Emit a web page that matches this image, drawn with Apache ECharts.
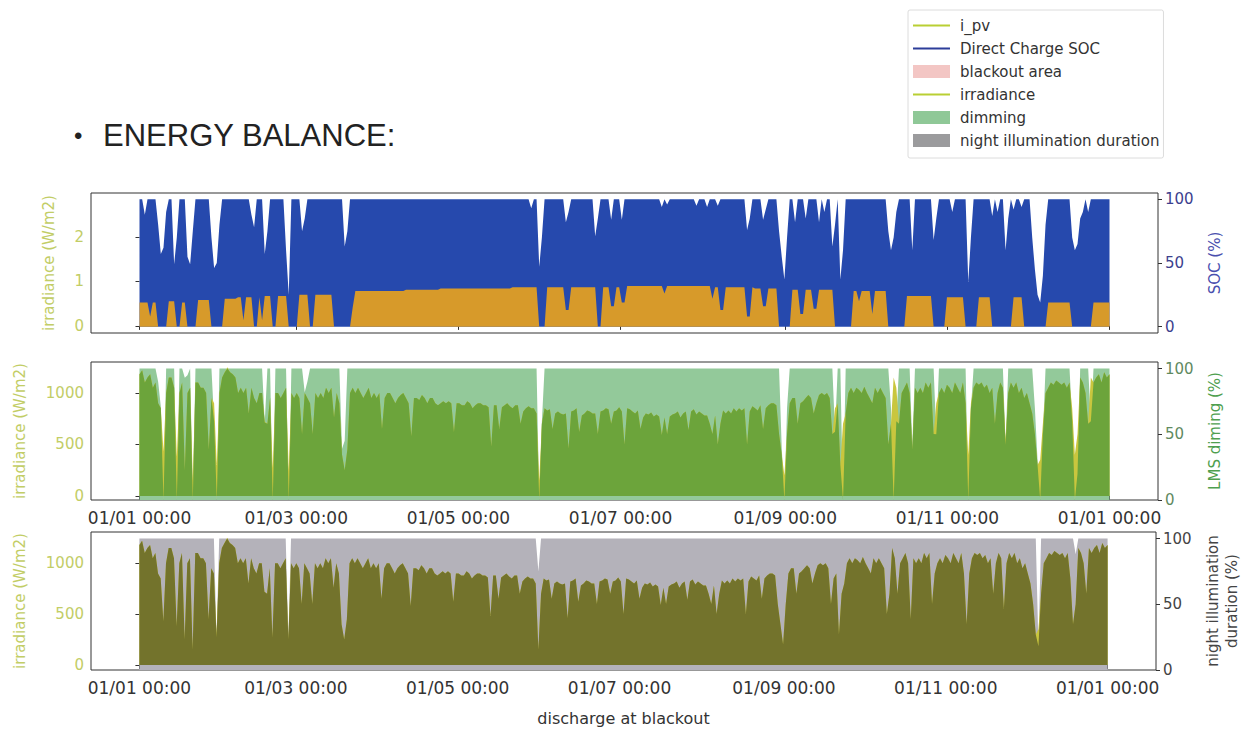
<!DOCTYPE html>
<html><head><meta charset="utf-8">
<script src="https://cdn.jsdelivr.net/npm/echarts@6/dist/echarts.min.js"></script>
<style>html,body{margin:0;padding:0;background:#fff}#c{width:1249px;height:729px}</style>
</head><body><div id="c"></div>
<script>
// ---- x axis ticks (day of year) ----
const xTickDays = [0, 59, 120, 181, 243, 304, 365];
const xTickLabels = ['01/01 00:00','01/03 00:00','01/05 00:00','01/07 00:00','01/09 00:00','01/11 00:00','01/01 00:00'];

// ---- panel 1: Direct Charge SOC (%), one value per day (daily max / daily min) ----
const socMax = [
100,100,88,100,100,100,100,80,57,62,   // day 0
90,100,100,49,70,100,100,100,55,49,
75,100,100,100,100,100,100,70,46,50,
80,100,100,100,100,100,100,100,100,100,
100,100,88,78,100,100,100,57,75,100,
100,100,100,100,100,60,25,100,100,100,
100,75,85,100,100,100,100,100,100,100,
100,100,100,100,100,100,100,63,75,100,
100,100,100,100,100,100,100,100,100,100, // day 80
100,100,100,100,100,100,100,100,100,100,
100,100,100,100,100,100,100,100,100,100,
100,100,100,100,100,100,100,100,100,100,
100,100,100,100,100,100,100,100,100,100,
100,100,100,100,100,100,100,100,100,100,
100,100,100,100,100,100,100,93,100,100,
47,70,100,100,100,100,100,100,100,100,  // day 150
82,90,100,100,100,100,100,100,100,100,
100,71,85,100,100,100,100,84,100,100,
100,84,100,100,100,100,100,100,100,100,
100,100,100,100,100,100,94,100,96,100,
100,100,100,100,100,100,100,100,100,95, // day 200
100,100,100,94,100,100,100,95,100,100,
100,100,100,100,100,100,100,100,76,85,
100,100,100,100,84,92,100,100,100,100,
75,55,37,70,100,100,82,100,100,100,
85,100,100,100,100,82,100,90,100,100,   // day 250
63,80,100,37,60,100,100,100,100,100,
100,100,100,100,100,100,100,100,100,100,
100,75,60,70,90,100,100,100,100,100,
60,100,100,100,100,100,100,100,68,85,
100,100,100,100,100,90,100,100,100,100, // day 300
100,35,70,100,100,100,100,100,100,100,
87,100,90,100,100,60,85,100,92,100,
100,94,100,100,100,70,45,25,19,40,
80,100,100,100,100,100,100,100,100,100,
70,60,65,85,90,100,90,100,100,100,      // day 350
100,100,100,100,100];
const socMin = [
19,19,19,19,8,19,19,0,0,0,               // day 0
0,20,20,20,0,0,19,19,0,0,
0,0,21,21,21,21,21,0,0,0,
0,0,22,22,22,22,22,23,23,5,
23,23,23,0,0,23,5,24,24,24,
0,0,24,24,24,24,0,0,0,0,
25,25,25,25,0,0,25,25,25,25,
25,25,25,0,0,0,0,0,0,0,
15,28,28,28,28,28,28,28,28,28,           // day 80
28,28,28,28,28,28,28,28,28,28,
29,29,29,29,29,29,29,29,29,29,
29,29,29,30,30,30,30,30,30,30,
30,30,30,30,30,30,30,30,30,30,
30,30,30,30,30,30,30,30,30,30,
31,31,31,31,31,31,31,31,31,31,
0,0,0,31,31,31,31,31,31,31,              // day 150
13,13,31,31,31,31,31,31,31,31,
31,31,0,0,31,31,31,16,16,31,
31,19,19,32,32,32,32,32,32,32,
32,32,32,32,32,32,32,26,32,32,
32,32,32,32,32,32,32,32,32,32,           // day 200
32,32,32,32,32,22,31,31,13,13,
31,31,31,31,31,31,31,31,8,8,
31,30,30,30,16,16,30,30,30,30,
0,0,0,0,0,29,29,29,10,10,
29,29,29,14,14,29,29,29,29,29,           // day 250
29,0,0,0,0,0,0,0,28,28,
20,28,28,28,28,10,28,28,28,28,
28,0,0,0,0,0,0,0,24,24,
24,24,24,24,24,24,24,24,0,0,
0,0,0,23,23,23,23,23,23,23,              // day 300
0,0,0,0,0,23,23,23,23,23,
0,0,0,0,0,0,0,0,23,23,
23,23,0,0,0,0,0,0,0,0,
0,19,19,19,19,19,19,19,19,19,
0,0,0,0,0,0,0,0,19,19,                   // day 350
19,19,19,19,19];

// ---- panels 2 & 3: irradiance daily peak (W/m2) ----
const irradiance = [
1180,1220,1100,1150,1180,1050,1100,900,850,430,      // day 0
1000,1150,1150,1050,380,1000,1100,250,1000,1050,
150,1100,1100,1050,1050,1000,450,950,900,300,
1000,1150,1200,1250,1200,1180,1150,1000,1050,1000,
1050,800,1050,950,900,1000,1000,720,700,950,
270,1000,1000,950,1000,1050,250,1000,950,1000,
950,600,1000,950,900,600,1000,950,1000,950,
1050,1000,1050,760,1000,900,400,250,450,1000,
1050,1000,1050,1000,950,1000,1050,950,1000,950,      // day 80
1000,650,950,1000,1000,950,900,950,980,1000,
950,900,580,950,950,930,980,950,900,950,
950,900,880,900,920,900,920,900,620,900,
900,880,880,920,900,850,880,900,900,880,
880,860,480,880,880,650,860,880,900,870,
850,880,880,700,820,850,870,850,850,800,
150,700,850,830,840,650,800,820,800,790,             // day 150
800,460,820,830,850,620,780,800,830,820,
800,800,600,820,830,850,840,700,820,830,
860,820,500,850,840,820,800,830,650,760,
800,790,810,770,790,770,590,760,600,770,
790,800,820,760,800,820,640,820,840,790,             // day 200
820,800,780,780,700,600,780,500,700,830,
800,830,800,850,820,850,830,850,500,820,
870,850,830,880,650,850,880,900,900,880,
600,400,200,600,900,950,950,700,900,920,
950,980,950,800,900,980,1000,980,1000,950,           // day 250
600,850,900,300,700,800,1000,1050,1000,1050,
1030,1000,1060,1000,950,900,1050,1000,1050,1000,
950,500,700,1150,1050,700,1000,1050,1100,1000,
450,1050,1000,1050,1000,1100,1050,1100,600,900,
1000,1050,1000,1080,1050,1000,1100,1050,1000,1100,   // day 300
900,400,900,1050,1100,1080,1100,1050,1080,1000,
1050,700,1000,1100,1050,550,1000,1100,1050,1100,
1000,1050,950,1000,900,800,600,300,350,700,
1000,1050,1100,1080,1120,1100,1080,1100,1050,1100,
850,400,600,1150,1100,1000,700,1150,1100,1150,       // day 350
1180,1100,1200,1150,1180];

// ---- panel 2: LMS dimming (%) ----
const dimming = [
100,100,100,100,100,100,100,90,71,0,     // day 0
100,100,100,100,0,100,100,93,95,100,
0,100,100,100,100,100,100,100,60,0,
100,100,100,100,100,100,100,100,100,100,
100,100,100,100,100,100,100,59,100,100,
0,100,100,100,100,100,0,100,100,100,
100,100,82,90,100,100,100,100,100,100,
100,100,100,100,100,100,39,45,100,100,
100,100,100,100,100,100,100,100,100,100, // day 80
100,100,100,100,100,100,100,100,100,100,
100,100,100,100,100,100,100,100,100,100,
100,100,100,100,100,100,100,100,100,100,
100,100,100,100,100,100,100,100,100,100,
100,100,100,100,100,100,100,100,100,100,
100,100,100,100,100,100,100,100,100,100,
0,60,100,100,100,100,100,100,100,100,    // day 150
100,100,100,100,100,100,100,100,100,100,
100,100,100,100,100,100,100,100,100,100,
100,100,100,100,100,100,100,100,100,100,
100,100,100,100,100,100,100,100,100,100,
100,100,100,100,100,100,100,100,100,100, // day 200
100,100,100,100,100,100,100,100,100,100,
100,100,100,100,100,100,100,100,100,100,
100,100,100,100,100,100,100,100,100,100,
100,40,0,70,100,100,100,100,100,100,
100,100,100,100,100,100,100,100,100,100, // day 250
100,52,100,100,0,100,100,100,100,100,
100,100,100,100,100,100,100,100,100,100,
100,100,70,0,60,100,100,100,100,100,
41,100,100,100,100,100,100,100,100,50,
100,100,100,100,100,100,100,100,100,100, // day 300
100,0,70,100,100,100,100,100,100,100,
100,100,100,100,100,42,100,100,100,100,
100,100,100,100,100,100,70,30,0,50,
100,100,100,100,100,100,100,100,100,100,
60,0,20,100,100,100,100,60,100,100,      // day 350
100,100,100,100,100];

// ---- panel 3: night illumination duration (%) ----
const nightDuration = [
100,100,100,100,100,100,100,100,100,100, // day 0
100,100,100,100,100,100,100,100,100,100,
100,100,100,100,100,100,100,100,100,25,
100,100,100,100,100,100,100,100,100,100,
100,100,100,100,100,100,100,100,100,100,
100,100,100,100,100,100,25,100,100,100,
100,100,100,100,100,100,100,100,100,100,
100,100,100,100,100,100,100,100,100,100,
100,100,100,100,100,100,100,100,100,100, // day 80
100,100,100,100,100,100,100,100,100,100,
100,100,100,100,100,100,100,100,100,100,
100,100,100,100,100,100,100,100,100,100,
100,100,100,100,100,100,100,100,100,100,
100,100,100,100,100,100,100,100,100,100,
100,100,100,100,100,100,100,100,100,100,
75,100,100,100,100,100,100,100,100,100,  // day 150
100,100,100,100,100,100,100,100,100,100,
100,100,100,100,100,100,100,100,100,100,
100,100,100,100,100,100,100,100,100,100,
100,100,100,100,100,100,100,100,100,100,
100,100,100,100,100,100,100,100,100,100, // day 200
100,100,100,100,100,100,100,100,100,100,
100,100,100,100,100,100,100,100,100,100,
100,100,100,100,100,100,100,100,100,100,
100,100,100,100,100,100,100,100,100,100,
100,100,100,100,100,100,100,100,100,100, // day 250
100,100,100,100,100,100,100,100,100,100,
100,100,100,100,100,100,100,100,100,100,
100,100,100,100,100,100,100,100,100,100,
100,100,100,100,100,100,100,100,100,100,
100,100,100,100,100,100,100,100,100,100, // day 300
100,100,100,100,100,100,100,100,100,100,
100,100,100,100,100,100,100,100,100,100,
100,100,100,100,100,100,100,100,18,100,
100,100,100,100,100,100,100,100,100,100,
100,100,88,100,100,100,100,100,100,100,  // day 350
100,100,100,100,100];

// ---------------- layout / style ----------------
const FONT = 'DejaVu Sans';
const X_RANGE = [-18.25, 383.25];
const P1_LEFT = [-0.16, 2.99], P1_RIGHT = [-5, 105];
const P2_LEFT = [-40, 1300], P2_RIGHT = [0, 105];
const P3_LEFT = [-50, 1307], P3_RIGHT = [0, 105];
const C_LEFT = '#c2cd66';

const N = irradiance.length;
const dayOf = i => i * 365 / (N - 1);
const pts = arr => arr.map((v, i) => [dayOf(i), v]);
// value on right (%) axis expressed in left-axis units of the same grid
const pctToLeft = (p, L, R) => L[0] + (p - R[0]) / (R[1] - R[0]) * (L[1] - L[0]);
const overlap = (pct, L, R) => irradiance.map((w, i) => Math.min(w, pctToLeft(pct[i], L, R)));

function area(name, data, xi, yi, color) {
  return {name, type: 'line', xAxisIndex: xi, yAxisIndex: yi, data: pts(data),
    symbol: 'none', showSymbol: false, lineStyle: {width: 0, color}, itemStyle: {color},
    areaStyle: {color, opacity: 1}, silent: true, animation: false};
}
function empty(name, color) {
  return {name, type: 'line', xAxisIndex: 0, yAxisIndex: 1, data: [], symbol: 'none',
    lineStyle: {color}, itemStyle: {color}};
}
function xAx(g, labels) {
  return {type: 'value', gridIndex: g, min: X_RANGE[0], max: X_RANGE[1],
    splitLine: {show: false}, axisLine: {show: false},
    axisTick: {show: true, length: 4, customValues: xTickDays, lineStyle: {color: '#333'}},
    axisLabel: {show: labels, customValues: xTickDays, margin: 9, color: '#333', fontFamily: FONT, fontSize: 17,
      formatter: v => xTickLabels[xTickDays.indexOf(v)] || ''},
    name: g === 2 ? 'discharge at blackout' : '', nameLocation: 'middle', nameGap: 40,
    nameTextStyle: {color: '#333', fontFamily: FONT, fontSize: 16}};
}
function yAx(g, pos, rng, ticks, color, name, gap, tickColor) {
  return {type: 'value', gridIndex: g, position: pos, min: rng[0], max: rng[1],
    splitLine: {show: false}, axisLine: {show: false},
    axisTick: {show: true, length: 4, customValues: ticks, lineStyle: {color: '#333'}},
    axisLabel: {customValues: ticks, margin: 7, color: tickColor || color, fontFamily: FONT, fontSize: 15,
      formatter: v => String(v)},
    name, nameLocation: 'middle', nameGap: gap, nameRotate: 90,
    nameTextStyle: {color, fontFamily: FONT, fontSize: 15, lineHeight: 19}};
}
const lineIcon = 'path://M0,0h0.01v0.01h-0.01z M0,5.5h37v2h-37z M0,13h0.01v0.01h-0.01z';

const option = {
  animation: false,
  textStyle: {fontFamily: FONT},
  title: {
    text: '{b|•}{t|ENERGY BALANCE:}', left: 74, top: 120, padding: 0,
    textStyle: {rich: {
      b: {fontFamily: 'Liberation Sans', fontSize: 24, fontWeight: 'normal', color: '#222', width: 29},
      t: {fontFamily: 'Liberation Sans', fontSize: 31, fontWeight: 'normal', color: '#222'}
    }}
  },
  legend: {
    orient: 'vertical', left: 908, top: 10, padding: [8, 4, 10, 5], itemGap: 8,
    itemWidth: 37, itemHeight: 13, borderColor: '#dcdcdc', borderWidth: 1, borderRadius: 2,
    backgroundColor: '#fff', selectedMode: false,
    textStyle: {fontFamily: FONT, fontSize: 15, color: '#333', padding: [0, 0, 0, 5]},
    data: [
      {name: 'i_pv', icon: lineIcon, itemStyle: {color: '#b9cf33'}},
      {name: 'Direct Charge SOC', icon: lineIcon, itemStyle: {color: '#2c3d99'}},
      {name: 'blackout area', icon: 'rect', itemStyle: {color: '#f3c6c4'}},
      {name: 'irradiance', icon: lineIcon, itemStyle: {color: '#b9cf33'}},
      {name: 'dimming', icon: 'rect', itemStyle: {color: '#8fc897'}},
      {name: 'night illumination duration', icon: 'rect', itemStyle: {color: '#9b9b9d'}}
    ]
  },
  grid: [
    {left: 91, right: 91, top: 193, height: 140, show: true, borderColor: '#333', borderWidth: 1, backgroundColor: 'transparent'},
    {left: 91, right: 91, top: 362, height: 138, show: true, borderColor: '#333', borderWidth: 1, backgroundColor: 'transparent'},
    {left: 91, right: 91, top: 532, height: 138, show: true, borderColor: '#333', borderWidth: 1, backgroundColor: 'transparent'}
  ],
  xAxis: [xAx(0, false), xAx(1, true), xAx(2, true)],
  yAxis: [
    yAx(0, 'left', P1_LEFT, [0, 1, 2], C_LEFT, 'irradiance (W/m2)', 33),
    yAx(0, 'right', P1_RIGHT, [0, 50, 100], '#4a4fae', 'SOC (%)', 47, '#3c3f8e'),
    yAx(1, 'left', P2_LEFT, [0, 500, 1000], C_LEFT, 'irradiance (W/m2)', 62),
    yAx(1, 'right', P2_RIGHT, [0, 50, 100], '#4f9f4f', 'LMS diming (%)', 47, '#5f8a5f'),
    yAx(2, 'left', P3_LEFT, [0, 500, 1000], C_LEFT, 'irradiance (W/m2)', 62),
    yAx(2, 'right', P3_RIGHT, [0, 50, 100], '#444', 'night illumination\nduration (%)', 47, '#444')
  ],
  series: [
    empty('i_pv', '#b9cf33'),
    empty('blackout area', '#f3c6c4'),
    area('Direct Charge SOC', socMax, 0, 1, '#2649ad'),
    area('SOC floor', socMin, 0, 1, '#d79a2a'),

    area('dimming', dimming, 1, 3, '#93c99a'),
    area('irradiance', irradiance, 1, 2, '#c9c63e'),
    area('irradiance under dimming', overlap(dimming, P2_LEFT, P2_RIGHT), 1, 2, '#6ca43b'),

    area('night illumination duration', nightDuration, 2, 5, '#b4b2ba'),
    area('irradiance', irradiance, 2, 4, '#c9c63e'),
    area('irradiance under night', overlap(nightDuration, P3_LEFT, P3_RIGHT), 2, 4, '#73732c')
  ]
};
const chart = echarts.init(document.getElementById('c'), null, {renderer: 'svg'});
chart.setOption(option);
</script>
</body></html>
